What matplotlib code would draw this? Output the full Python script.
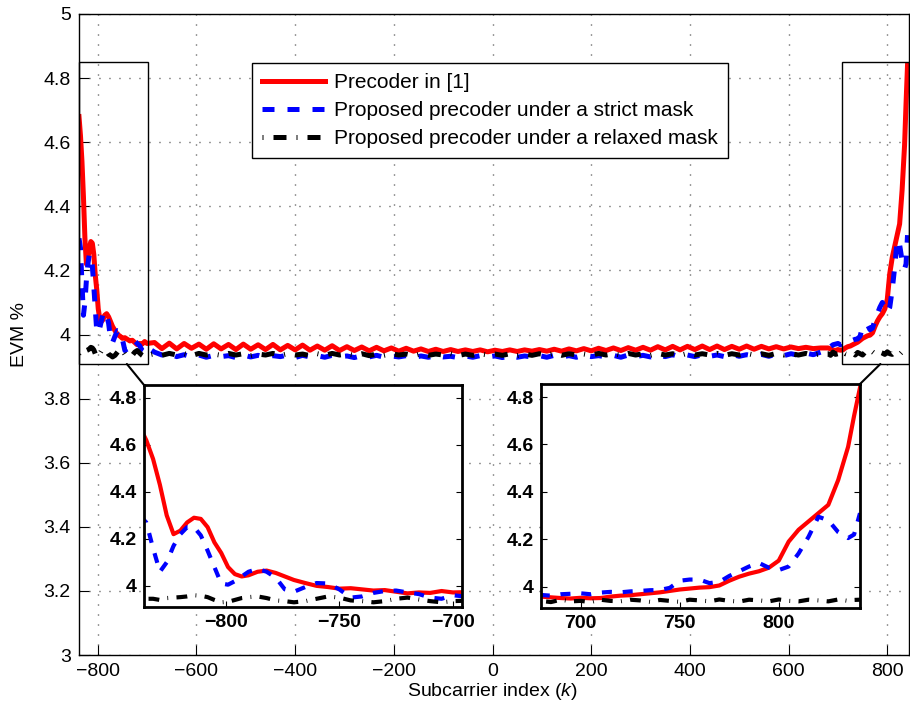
import numpy as np
import matplotlib
matplotlib.use('Agg')
import matplotlib.pyplot as plt
from matplotlib.patches import Rectangle, ConnectionPatch

plt.rcParams['font.family'] = ['Liberation Sans', 'DejaVu Sans']
plt.rcParams['mathtext.fontset'] = 'custom'
plt.rcParams['mathtext.rm'] = 'Liberation Sans'
plt.rcParams['mathtext.it'] = 'Liberation Sans:italic'

# ---------------- data ----------------
k_left = [-838, -835, -832, -829, -826, -823, -820, -817, -814, -811, -808, -805,
          -802, -799, -796, -793, -790, -786, -782, -778, -774, -770, -765, -760,
          -755, -750, -745, -740, -735, -730, -725, -720, -715, -710, -705, -700]
k_mid = list(range(-685, 666, 15))
k_right = [680, 685, 690, 695, 700, 705, 710, 715, 720, 725, 730, 735, 740, 745,
           750, 755, 760, 765, 770, 775, 780, 785, 790, 795, 800, 805, 810, 815,
           820, 825, 830, 835, 838, 841]

red_left = [4.68, 4.62, 4.54, 4.43, 4.30, 4.22, 4.235, 4.27, 4.29, 4.285, 4.25, 4.185,
            4.14, 4.08, 4.05, 4.04, 4.045, 4.06, 4.065, 4.055, 4.04, 4.025, 4.012, 4.0,
            3.995, 3.988, 3.99, 3.985, 3.98, 3.982, 3.975, 3.968, 3.972, 3.97, 3.978, 3.972]
red_mid = [3.975, 3.956, 3.973, 3.955, 3.972, 3.957, 3.970, 3.954, 3.971, 3.955,
           3.969, 3.953, 3.970, 3.954, 3.968, 3.953, 3.969, 3.952, 3.966, 3.952,
           3.967, 3.951, 3.964, 3.951, 3.965, 3.950, 3.962, 3.950, 3.961, 3.949,
           3.960, 3.949, 3.958, 3.948, 3.957, 3.948, 3.955, 3.947, 3.954, 3.947,
           3.953, 3.947, 3.952, 3.947, 3.952, 3.946, 3.951, 3.947, 3.952, 3.947,
           3.952, 3.948, 3.953, 3.948, 3.954, 3.948, 3.955, 3.949, 3.956, 3.949,
           3.957, 3.950, 3.958, 3.950, 3.959, 3.951, 3.960, 3.951, 3.962, 3.952,
           3.963, 3.952, 3.963, 3.953, 3.964, 3.953, 3.964, 3.953, 3.963, 3.954,
           3.964, 3.954, 3.963, 3.955, 3.962, 3.955, 3.961, 3.956, 3.960, 3.956, 3.958]
red_right = [3.958, 3.955, 3.952, 3.950, 3.953, 3.951, 3.952, 3.958, 3.962, 3.964,
             3.968, 3.972, 3.976, 3.982, 3.988, 3.992, 3.996, 3.998, 4.005, 4.025,
             4.042, 4.055, 4.065, 4.08, 4.11, 4.19, 4.24, 4.275, 4.31, 4.345,
             4.45, 4.59, 4.72, 4.84]

blue_left = [4.30, 4.27, 4.16, 4.06, 4.10, 4.17, 4.22, 4.25, 4.25, 4.215, 4.15, 4.08,
             4.01, 4.005, 4.02, 4.04, 4.06, 4.072, 4.06, 4.035, 3.985, 3.975, 3.995, 4.012,
             4.01, 3.985, 3.95, 3.955, 3.97, 3.978, 3.98, 3.972, 3.965, 3.95, 3.945, 3.96]
blue_mid = [3.945, 3.936, 3.940, 3.931, 3.937, 3.930, 3.936, 3.929, 3.935, 3.931,
            3.934, 3.928, 3.936, 3.930, 3.935, 3.929, 3.934, 3.931, 3.936, 3.928,
            3.935, 3.930, 3.934, 3.929, 3.935, 3.931, 3.933, 3.928, 3.934, 3.930,
            3.935, 3.929, 3.933, 3.930, 3.934, 3.928, 3.933, 3.929, 3.934, 3.930,
            3.932, 3.928, 3.933, 3.929, 3.934, 3.930, 3.933, 3.928, 3.934, 3.929,
            3.933, 3.930, 3.934, 3.929, 3.935, 3.930, 3.934, 3.929, 3.935, 3.931,
            3.934, 3.930, 3.935, 3.929, 3.936, 3.931, 3.935, 3.930, 3.936, 3.931,
            3.937, 3.930, 3.936, 3.931, 3.937, 3.932, 3.936, 3.931, 3.938, 3.932,
            3.937, 3.933, 3.938, 3.932, 3.939, 3.934, 3.940, 3.935, 3.942, 3.937, 3.945]
blue_right = [3.965, 3.962, 3.968, 3.970, 3.972, 3.968, 3.975, 3.978, 3.976, 3.980,
              3.982, 3.985, 3.986, 3.995, 4.025, 4.03, 4.03, 4.015, 4.02, 4.045,
              4.065, 4.085, 4.10, 4.08, 4.07, 4.085, 4.14, 4.21, 4.295, 4.28,
              4.23, 4.205, 4.22, 4.31]

black_left = [3.94, 3.945, 3.945, 3.94, 3.948, 3.95, 3.952, 3.955, 3.96, 3.958, 3.952, 3.94,
              3.93, 3.932, 3.94, 3.948, 3.952, 3.955, 3.948, 3.938, 3.935, 3.93, 3.935, 3.945,
              3.955, 3.95, 3.938, 3.935, 3.93, 3.935, 3.945, 3.95, 3.942, 3.935, 3.93, 3.935]
black_mid = [3.940, 3.935, 3.941, 3.936, 3.940, 3.934, 3.941, 3.936, 3.939, 3.935,
             3.941, 3.936, 3.940, 3.934, 3.939, 3.936, 3.941, 3.935, 3.940, 3.936,
             3.939, 3.934, 3.940, 3.935, 3.941, 3.936, 3.939, 3.935, 3.940, 3.934,
             3.939, 3.935, 3.940, 3.936, 3.939, 3.934, 3.940, 3.935, 3.939, 3.936,
             3.940, 3.934, 3.939, 3.935, 3.940, 3.936, 3.939, 3.935, 3.940, 3.934,
             3.939, 3.935, 3.940, 3.936, 3.941, 3.935, 3.940, 3.936, 3.939, 3.935,
             3.941, 3.936, 3.940, 3.935, 3.941, 3.936, 3.940, 3.935, 3.941, 3.936,
             3.940, 3.935, 3.941, 3.936, 3.940, 3.936, 3.941, 3.935, 3.940, 3.936,
             3.941, 3.936, 3.940, 3.935, 3.941, 3.936, 3.940, 3.936, 3.941, 3.935, 3.940]
black_right = [3.94, 3.935, 3.945, 3.938, 3.94, 3.935, 3.945, 3.94, 3.938, 3.945,
               3.942, 3.936, 3.944, 3.94, 3.936, 3.945, 3.942, 3.938, 3.946, 3.94,
               3.937, 3.945, 3.942, 3.938, 3.946, 3.94, 3.938, 3.945, 3.942, 3.938,
               3.946, 3.94, 3.944, 3.945]

labels = ['Precoder in [1]',
          'Proposed precoder under a strict mask',
          'Proposed precoder under a relaxed mask']
xticks_main = [-800, -600, -400, -200, 0, 200, 400, 600, 800]
yticks_main = [3, 3.2, 3.4, 3.6, 3.8, 4, 4.2, 4.4, 4.6, 4.8, 5]
ytick_labels_main = ['3', '3.2', '3.4', '3.6', '3.8', '4', '4.2', '4.4', '4.6', '4.8', '5']
xticks_in1 = [-800, -750, -700]
xticks_in2 = [700, 750, 800]
yticks_in = [4, 4.2, 4.4, 4.6, 4.8]
ytick_labels_in = ['4', '4.2', '4.4', '4.6', '4.8']

k = np.array(k_left + k_mid + k_right)
red = np.array(red_left + red_mid + red_right)
blue = np.array(blue_left + blue_mid + blue_right)
black = np.array(black_left + black_mid + black_right)

# ---------------- figure ----------------
W, H = 910, 713
fig = plt.figure(figsize=(W / 100, H / 100), dpi=100)

def fr(x0, y0, x1, y1):
    return [x0 / W, 1 - y1 / H, (x1 - x0) / W, (y1 - y0) / H]

ax = fig.add_axes(fr(79, 14, 909, 655))
FS = 14
dash_blue = (2.4, 2.6)
dash_black = (0.2, 2.0, 2.6, 2.0)

def draw(a, lw):
    a.plot(k, red, color='#ff0000', lw=lw, solid_joinstyle='round', label=labels[0])
    a.plot(k, blue, color='#0000ff', lw=lw, dashes=dash_blue, dash_capstyle='butt', label=labels[1])
    a.plot(k, black, color='black', lw=lw, dashes=dash_black, dash_capstyle='butt', label=labels[2])

draw(ax, 3.6)
ax.set_xlim(-838, 844)
ax.set_ylim(3, 5)
ax.set_xticks(xticks_main)
ax.set_yticks(yticks_main)
ax.set_yticklabels(ytick_labels_main)
ax.tick_params(direction='in', length=7, labelsize=FS, pad=6, width=0.8)
ax.grid(True, color='#333333', lw=1.0, dashes=(0.7, 6.5))
for s in ax.spines.values():
    s.set_linewidth(1.0)

fig.text(19 / W, 0.531, 'EVM %', rotation=90, ha='center', va='center', fontsize=FS)
fig.text(492 / W, 1 - 691 / H, 'Subcarrier index ($k$)', ha='center', va='center', fontsize=FS)

# zoom rectangles
ylo, yhi = 3.908, 4.849
ax.add_patch(Rectangle((-838, ylo), -697.5 + 838, yhi - ylo, fill=False, ec='black', lw=1.0, zorder=5, clip_on=False))
ax.add_patch(Rectangle((708, ylo), 844 - 708, yhi - ylo, fill=False, ec='black', lw=1.0, zorder=5, clip_on=False))

leg = ax.legend(loc='upper left', bbox_to_anchor=(252 / W, 1 - 63 / H), bbox_transform=fig.transFigure,
                borderaxespad=0, fontsize=15, handlelength=3.0, handletextpad=0.42,
                borderpad=0.5, labelspacing=0.42, fancybox=False, framealpha=1, edgecolor='black')
leg.get_frame().set_linewidth(1.0)
leg.set_zorder(10)

# insets
def inset(rect, xlim, xticks):
    a = fig.add_axes(rect)
    a.set_facecolor('white')
    draw(a, 3.0)
    a.set_xlim(*xlim)
    a.set_ylim(3.91, 4.855)
    a.set_xticks(xticks)
    a.set_yticks(yticks_in)
    a.set_yticklabels(ytick_labels_in)
    a.tick_params(direction='in', length=4, labelsize=FS, pad=5, right=True)
    for lab in a.get_xticklabels() + a.get_yticklabels():
        lab.set_fontweight('bold')
    for s in a.spines.values():
        s.set_linewidth(2.0)
    return a

ax1 = inset(fr(144, 385, 462, 607), (-836, -696), xticks_in1)
ax2 = inset(fr(541, 384, 860, 608), (680, 841), xticks_in2)

for xyA, axB, xyB in [((-741, ylo), ax1, (0, 1)), ((786, ylo), ax2, (1, 1))]:
    cp = ConnectionPatch(xyA=xyA, coordsA=ax.transData, xyB=xyB, coordsB=axB.transAxes,
                         color='black', lw=1.5)
    fig.add_artist(cp)

fig.savefig('out.png', dpi=100)
